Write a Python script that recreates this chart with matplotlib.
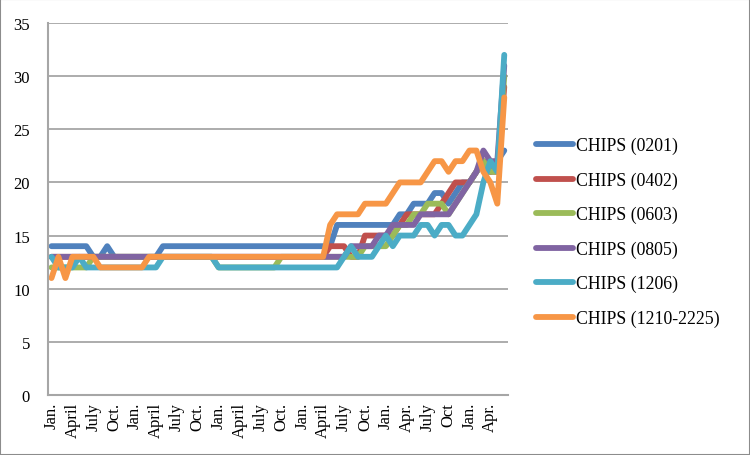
import matplotlib
matplotlib.use("Agg")
import matplotlib.pyplot as plt
from matplotlib.patches import Rectangle

plt.rcParams['font.family'] = ['Liberation Serif', 'DejaVu Serif']

# monthly values, Jan. of the first year up to the last month shown
chips_0201 = ([14]*6 + [13, 13, 14] + [13]*7 + [14]*25 + [16]*9 +
              [17, 17, 18, 18, 18, 19, 19, 18, 19, 20, 20, 21, 22, 21, 22, 23])
chips_0402 = ([13]*40 + [14]*3 + [13]*2 + [15]*5 + [16] + [17]*5 +
              [18, 19, 20, 20, 20, 21, 22, 21, 21, 29])
chips_0603 = ([12]*6 + [13]*18 + [12]*9 + [13]*12 + [14]*4 +
              [15, 16, 16, 17, 17, 18, 18, 18, 17, 18, 19, 20, 21, 22, 21, 21, 30])
chips_0805 = ([13]*43 + [14]*4 + [15]*2 +
              [16, 16, 16, 16, 17, 17, 17, 17, 17, 18, 19, 20, 21, 23, 22, 22, 31])
chips_1206 = ([13, 12, 12, 12, 13, 12, 12] + [12]*9 + [13]*8 + [12]*18 +
              [13, 14, 13, 13, 13, 14, 15, 14, 15, 15, 15, 16, 16, 15, 16, 16,
               15, 15, 16, 17, 20, 22, 21, 32])
chips_1210 = ([11, 13, 11, 13, 13, 13, 13] + [12]*7 + [13]*26 +
              [16] + [17]*4 + [18]*4 + [19] + [20]*4 +
              [21, 22, 22, 21, 22, 22, 23, 23, 21, 20, 18, 28])

series = [
    ("CHIPS (0201)", chips_0201, "#4F81BD"),
    ("CHIPS (0402)", chips_0402, "#C0504D"),
    ("CHIPS (0603)", chips_0603, "#9BBB59"),
    ("CHIPS (0805)", chips_0805, "#8064A2"),
    ("CHIPS (1206)", chips_1206, "#4BACC6"),
    ("CHIPS (1210-2225)", chips_1210, "#F79646"),
]

tick_labels = (["Jan.", "April", "July", "Oct."] * 4 +
               ["Jan.", "Apr.", "July", "Oct"] + ["Jan.", "Apr."])

fig = plt.figure(figsize=(7.5, 4.56), dpi=100)
ax = fig.add_axes([0.064, 0.1316, 0.613, 0.8158])

months = list(range(len(chips_0201)))
for name, vals, col in series:
    ax.plot(months, vals, color=col, lw=4.2, label=name,
            solid_joinstyle='round', solid_capstyle='round')

ax.set_xlim(-0.5, len(months) - 0.5)
ax.set_ylim(0, 35)
ax.set_yticks(range(0, 36, 5))
ax.set_xticks(range(0, 3 * len(tick_labels), 3))
ax.set_xticklabels(tick_labels, rotation=90, fontsize=12)
ax.tick_params(axis='y', labelsize=12, length=0, pad=13)
ax.tick_params(axis='x', length=0, pad=5)
ax.yaxis.grid(True, color='#A6A6A6', lw=1.3)
ax.set_axisbelow(True)
for s in ['top', 'right']:
    ax.spines[s].set_visible(False)
for s in ['left', 'bottom']:
    ax.spines[s].set_color('#A6A6A6')
    ax.spines[s].set_linewidth(1.5)

fig.legend(loc='center left', bbox_to_anchor=(536 / 750, 1 - 233 / 456),
           frameon=False, fontsize=12.8, handlelength=2.1, handletextpad=0.15,
           labelspacing=0.97, borderpad=0, borderaxespad=0)

fig.patches.append(Rectangle((0, 0), 1, 1, transform=fig.transFigure,
                             fill=False, edgecolor='#8C8C8C', lw=1.5))

fig.savefig("out.png", dpi=100)
